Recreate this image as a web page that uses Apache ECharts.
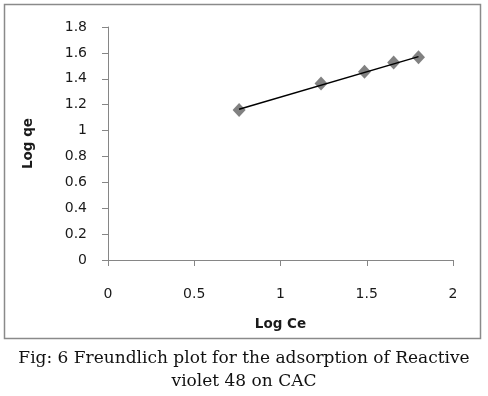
<!DOCTYPE html>
<html><head><meta charset="utf-8">
<script src="https://cdn.jsdelivr.net/npm/echarts@6/dist/echarts.min.js"></script>
<style>html,body{margin:0;padding:0;background:#fff}#c{width:488px;height:396px}</style>
</head><body><div id="c"></div>
<script>
const logCe = [0.76, 1.235, 1.487, 1.656, 1.80];
const logQe = [1.159, 1.364, 1.455, 1.525, 1.566];
const trendX = [0.76, 1.80];
const trendY = [1.164, 1.571];
const xTicks = [0, 0.5, 1, 1.5, 2];
const yTicks = [0, 0.2, 0.4, 0.6, 0.8, 1, 1.2, 1.4, 1.6, 1.8];
const xTitle = 'Log Ce';
const yTitle = 'Log qe';
const caption1 = 'Fig: 6 Freundlich plot for the adsorption of Reactive';
const caption2 = 'violet 48 on CAC';

const chart = echarts.init(document.getElementById('c'), null, {renderer:'canvas'});
const axisCol = '#868686';
const lab = {color:'#1a1a1a', fontFamily:'DejaVu Sans', fontSize:14};
chart.setOption({
  animation:false,
  backgroundColor:'#fff',
  grid:{left:108, top:27, right:35, bottom:136, containLabel:false},
  xAxis:{type:'value', min:xTicks[0], max:xTicks[xTicks.length-1], interval:0.5,
    name:xTitle, nameLocation:'middle', nameGap:57,
    nameTextStyle:{color:'#1a1a1a', fontFamily:'DejaVu Sans', fontSize:13.5, fontWeight:'bold'},
    axisLine:{show:true, onZero:false, lineStyle:{color:axisCol, width:1}},
    axisTick:{show:true, inside:false, length:6, lineStyle:{color:axisCol}},
    axisLabel:Object.assign({margin:27, formatter:v=>xTicks.includes(v)?String(v):''}, lab),
    splitLine:{show:false}},
  yAxis:{type:'value', min:yTicks[0], max:yTicks[yTicks.length-1], interval:0.2,
    name:yTitle, nameLocation:'middle', nameGap:73,
    nameTextStyle:{color:'#1a1a1a', fontFamily:'DejaVu Sans', fontSize:13.5, fontWeight:'bold'},
    axisLine:{show:true, onZero:false, lineStyle:{color:axisCol, width:1}},
    axisTick:{show:true, inside:false, length:6, lineStyle:{color:axisCol}},
    axisLabel:Object.assign({margin:21, formatter:v=>String(Math.round(v*10)/10)}, lab),
    splitLine:{show:false}},
  series:[
    {type:'line', data:trendX.map((x,i)=>[x,trendY[i]]), showSymbol:false, symbol:'none',
     lineStyle:{color:'#000', width:1.5}, z:3},
    {type:'scatter', data:logCe.map((x,i)=>[x,logQe[i]]), symbol:'diamond', symbolSize:[13,14],
     itemStyle:{color:'#7a7a7a', opacity:0.95}, z:2}
  ],
  graphic:[
    {type:'rect', shape:{x:4.5, y:4.5, width:476, height:334}, style:{fill:null, stroke:'#8a8a8a', lineWidth:1.5}, silent:true},
    {type:'text', left:'center', top:347, style:{text:caption1+'\n'+caption2, fill:'#111',
      font:'17px "DejaVu Serif", serif', textAlign:'center', lineHeight:23}}
  ]
});
</script></body></html>
